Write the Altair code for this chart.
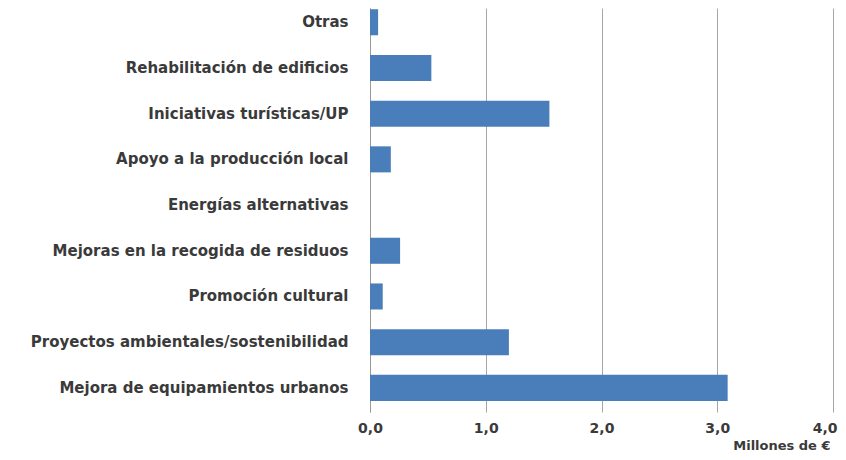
import altair as alt
import pandas as pd

categories = [
    "Otras",
    "Rehabilitación de edificios",
    "Iniciativas turísticas/UP",
    "Apoyo a la producción local",
    "Energías alternativas",
    "Mejoras en la recogida de residuos",
    "Promoción cultural",
    "Proyectos ambientales/sostenibilidad",
    "Mejora de equipamientos urbanos",
]
values = [0.07, 0.53, 1.55, 0.18, 0.0, 0.26, 0.11, 1.20, 3.09]
x_ticks = [0, 1, 2, 3, 4]

df = pd.DataFrame({"cat": categories, "val": values})

FONT = "DejaVu Sans"
LABEL_COLOR = "#3a3a3a"

chart = (
    alt.Chart(df)
    .mark_bar(color="#4A7EBB")
    .encode(
        y=alt.Y(
            "cat:N",
            sort=categories,
            scale=alt.Scale(paddingInner=0.43, paddingOuter=0.135, align=0.1),
            axis=alt.Axis(
                title=None,
                ticks=False,
                labelPadding=22,
                labelFont=FONT,
                labelFontSize=15,
                labelFontWeight="bold",
                labelColor=LABEL_COLOR,
                labelLimit=400,
                domainColor="#9a9a9a",
                domainWidth=1,
                grid=False,
            ),
        ),
        x=alt.X(
            "val:Q",
            scale=alt.Scale(domain=[0, 4], nice=False),
            axis=alt.Axis(
                values=x_ticks,
                title="Millones de €",
                titleFont=FONT,
                titleFontSize=13,
                titleFontWeight="bold",
                titleColor=LABEL_COLOR,
                titleAnchor="end",
                titleAlign="right",
                titleBaseline="bottom",
                titleX=460,
                titleY=40,
                labelExpr="replace(format(datum.value, '.1f'), '.', ',')",
                labelFont=FONT,
                labelFontSize=14,
                labelFontWeight="bold",
                labelColor=LABEL_COLOR,
                labelPadding=9,
                labelFlush=False,
                labelOverlap=False,
                labelAlign={"condition": {"test": "datum.value == 4", "value": "right"}, "value": "center"},
                labelOffset={"condition": {"test": "datum.value == 4", "value": 4}, "value": 0},
                ticks=False,
                domain=False,
                grid=True,
                gridColor="#a6a6a6",
                gridWidth=1,
            ),
        ),
    )
    .properties(
        width=463,
        height=404,
        background="white",
        autosize=alt.AutoSizeParams(type="none"),
        padding={"left": 362, "top": 0, "right": 5, "bottom": 40},
    )
    .configure_view(stroke=None)
)

chart.save("out.html", embed_options={"renderer": "svg", "actions": False})
